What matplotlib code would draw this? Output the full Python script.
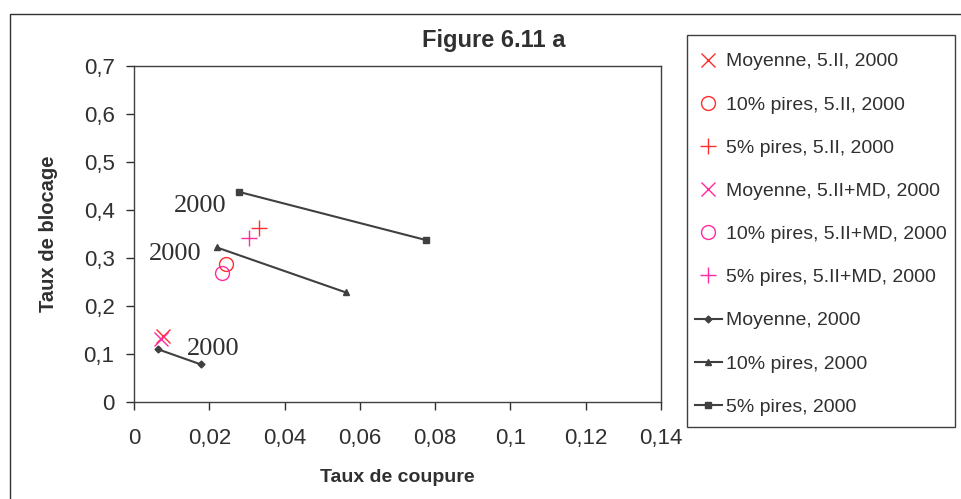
import matplotlib
matplotlib.use("Agg")
import matplotlib.pyplot as plt
from matplotlib.patches import Rectangle

plt.rcParams['font.family'] = ['Liberation Sans', 'DejaVu Sans']

# Scatter points (Taux de coupure, Taux de blocage)
moy_5II = ([0.0077], [0.1375])
p10_5II = ([0.0244], [0.2875])
p5_5II = ([0.0331], [0.363])
moy_5IIMD = ([0.0072], [0.131])
p10_5IIMD = ([0.0234], [0.269])
p5_5IIMD = ([0.0306], [0.342])

# Lines
moy_x = [0.0063, 0.0177]
moy_y = [0.110, 0.0785]
p10_x = [0.0220, 0.0562]
p10_y = [0.322, 0.2285]
p5_x = [0.0280, 0.0775]
p5_y = [0.4375, 0.3375]

# "2000" labels
label_x = [0.0175, 0.0110, 0.0211]
label_y = [0.408, 0.309, 0.110]

red = '#ff2d2d'
mag = '#ff2aa0'
dark = '#404040'

fig = plt.figure(figsize=(9.62, 4.99), dpi=100)
W, H = 962, 499
ax = fig.add_axes([134 / W, 1 - 402 / H, (661 - 134) / W, (402 - 66) / H])

# outer chart frame
fig.patches.append(Rectangle((10 / W, -0.05), 1.2, 1 - 14 / H + 0.05, transform=fig.transFigure,
                             fill=False, edgecolor='#303030', linewidth=1.0))
# legend frame
fig.patches.append(Rectangle((687 / W, 1 - 427 / H), (955 - 687) / W, (427 - 35) / H,
                             transform=fig.transFigure, fill=False, edgecolor='#404040', linewidth=1.0))

ms = 10
ax.plot(*moy_5II, linestyle='none', marker='x', color=red, ms=ms, mew=1.0, label='Moyenne, 5.II, 2000')
ax.plot(*p10_5II, linestyle='none', marker='o', mfc='none', mec=red, ms=ms, mew=1.0, label='10% pires, 5.II, 2000')
ax.plot(*p5_5II, linestyle='none', marker='+', color=red, ms=ms + 2, mew=1.0, label='5% pires, 5.II, 2000')
ax.plot(*moy_5IIMD, linestyle='none', marker='x', color=mag, ms=ms, mew=1.0, label='Moyenne, 5.II+MD, 2000')
ax.plot(*p10_5IIMD, linestyle='none', marker='o', mfc='none', mec=mag, ms=ms, mew=1.0, label='10% pires, 5.II+MD, 2000')
ax.plot(*p5_5IIMD, linestyle='none', marker='+', color=mag, ms=ms + 2, mew=1.0, label='5% pires, 5.II+MD, 2000')
ax.plot(moy_x, moy_y, color=dark, lw=1.5, marker='D', ms=3.5, label='Moyenne, 2000')
ax.plot(p10_x, p10_y, color=dark, lw=1.5, marker='^', ms=5, label='10% pires, 2000')
ax.plot(p5_x, p5_y, color=dark, lw=1.5, marker='s', ms=4, label='5% pires, 2000')

for x, y in zip(label_x, label_y):
    ax.text(x, y, '2000', family=['Liberation Serif'], fontsize=19, color='#303030',
            ha='center', va='center')

ax.set_xlim(0, 0.14)
ax.set_ylim(0, 0.7)
xt = [0, 0.02, 0.04, 0.06, 0.08, 0.1, 0.12, 0.14]
yt = [0, 0.1, 0.2, 0.3, 0.4, 0.5, 0.6, 0.7]
ax.set_xticks(xt)
ax.set_yticks(yt)
ax.set_xticklabels(['0' if v == 0 else ('%g' % v).replace('.', ',') for v in xt])
ax.set_yticklabels(['0' if v == 0 else ('%g' % v).replace('.', ',') for v in yt])
ax.tick_params(axis='both', labelsize=16, colors='#303030', length=6, width=1.0)
ax.tick_params(axis='x', pad=13)
ax.tick_params(axis='y', pad=8)
for s in ax.spines.values():
    s.set_color('#404040')
    s.set_linewidth(1.0)

ax.set_xlabel('Taux de coupure', fontsize=14, fontweight='bold', color='#303030')
ax.xaxis.set_label_coords(0.5, -0.2)
ax.set_ylabel('Taux de blocage', fontsize=14.5, fontweight='bold', color='#303030')
ax.yaxis.set_label_coords(-0.145, 0.5)

fig.text(494 / W, 1 - 40 / H, 'Figure 6.11 a', fontsize=17, fontweight='bold', color='#303030',
         ha='center', va='center')

leg = fig.legend(loc='upper left', bbox_to_anchor=(687 / W, 1 - 45 / H), bbox_transform=fig.transFigure,
                 fontsize=14, frameon=False, borderaxespad=0,
                 labelspacing=1.315, handlelength=1.4, handletextpad=0.2, borderpad=0.4)
for t in leg.get_texts():
    t.set_color('#303030')

fig.savefig('out.png', dpi=100)
